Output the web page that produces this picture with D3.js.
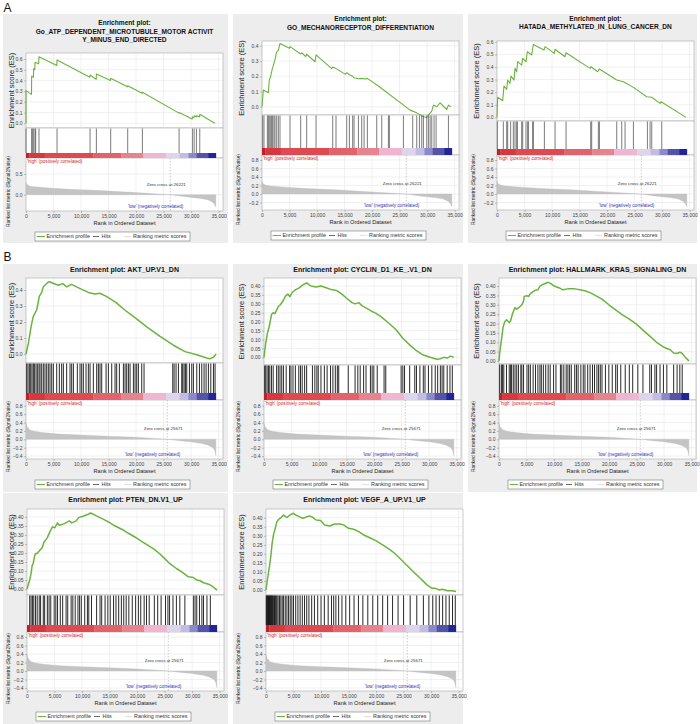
<!DOCTYPE html>
<html><head><meta charset="utf-8">
<script src="https://cdn.jsdelivr.net/npm/d3@7/dist/d3.min.js"></script>
<style>body{margin:0;background:#fff}svg{display:block}text{font-family:"Liberation Sans",Arial,sans-serif}</style>
</head><body><svg id="c" width="700" height="724"></svg>
<script>
// ---------------- DATA ----------------
const xTicks = [0,5000,10000,15000,20000,25000,30000,35000];
const zeroCrossA = 26221, zeroCrossB = 25671;
const legendLabels = ["Enrichment profile","Hits","Ranking metric scores"];
const barStops = [0,600,3400,12200,17300,21300,25500,27900,29500,31000,33100,34500];
const barColors = ["#c21f2b","#d7383f","#de4a50","#e2636c","#e6838c","#efb6d1","#dcd5ec","#c2bce3","#8b89cc","#5353aa","#23239a"];

const titlesA1 = ["Enrichment plot:","Go_ATP_DEPENDENT_MICROTUBULE_MOTOR ACTIVIT","Y_MINUS_END_DIRECTED"];
const titlesA2 = ["Enrichment plot:","GO_MECHANORECEPTOR_DIFFERENTIATION"];
const titlesA3 = ["Enrichment plot:","HATADA_METHYLATED_IN_LUNG_CANCER_DN"];
const titlesB1 = ["Enrichment plot: AKT_UP.V1_DN"];
const titlesB2 = ["Enrichment plot: CYCLIN_D1_KE_.V1_DN"];
const titlesB3 = ["Enrichment plot: HALLMARK_KRAS_SIGNALING_DN"];
const titlesB4 = ["Enrichment plot: PTEN_DN.V1_UP"];
const titlesB5 = ["Enrichment plot: VEGF_A_UP.V1_UP"];

const esTicksA1 = [0,0.1,0.2,0.3,0.4,0.5,0.6];
const esTicksA2 = [0,0.1,0.2,0.3,0.4];
const esTicksA3 = [0,0.1,0.2,0.3,0.4,0.5,0.6];
const esTicksB1 = [0,0.1,0.2,0.3,0.4];
const esTicksB = [0,0.05,0.1,0.15,0.2,0.25,0.3,0.35,0.4];
const rankTicksA1 = [0,0.5];
const rankTicksA = [-0.2,0,0.2,0.4,0.6,0.8];
const rankTicksB = [-0.4,-0.2,0,0.2,0.4,0.6,0.8];

const rankedA = [[0,0.29],[150,0.25],[600,0.21],[1500,0.19],[4300,0.16],[8000,0.13],[13400,0.1],[20000,0.05],[26221,0],[29000,-0.05],[31700,-0.09],[33000,-0.12],[33800,-0.17],[34200,-0.22],[34450,-0.29],[34500,-0.3]];
const rankedB = [[0,0.38],[200,0.3],[730,0.22],[1500,0.19],[3000,0.16],[6000,0.125],[10000,0.1],[15000,0.075],[20000,0.05],[25671,0],[28000,-0.035],[30000,-0.06],[32000,-0.1],[33000,-0.135],[34000,-0.2],[34300,-0.27],[34500,-0.39]];

const esA1 = [[0,0],[0,0.305],[1000,0.27],[1030,0.44],[1350,0.43],[1390,0.51],[1600,0.5],[1640,0.57],[2300,0.555],[2360,0.62],[5600,0.54],[5640,0.59],[11600,0.43],[11640,0.45],[12750,0.41],[12790,0.46],[15350,0.4],[15390,0.42],[18450,0.34],[18480,0.35],[21100,0.28],[21150,0.29],[27800,0.095],[27820,0.1],[30200,0.04],[30240,0.06],[30500,0.05],[30550,0.07],[30950,0.06],[30970,0.07],[31550,0.06],[31580,0.085],[34300,0]];
const hitsA1 = [0,1030,1150,1390,1640,1760,2360,5640,11640,12790,15390,18480,21150,27820,30240,30550,30970,31580];

const esA2 = [[0,0],[240,0.11],[1150,0.092],[1330,0.175],[1580,0.2],[1760,0.23],[1880,0.25],[2060,0.27],[2360,0.31],[2670,0.36],[2970,0.37],[3270,0.415],[4970,0.383],[5090,0.394],[7030,0.346],[7210,0.354],[7940,0.328],[8120,0.344],[9640,0.295],[9820,0.34],[12670,0.25],[12850,0.26],[13450,0.25],[15090,0.214],[15390,0.223],[15990,0.208],[16480,0.2],[16730,0.19],[17510,0.184],[18120,0.186],[18730,0.182],[19150,0.186],[21150,0.136],[26910,-0.022],[28120,-0.04],[29330,-0.066],[29940,-0.07],[30240,-0.055],[30850,-0.028],[31150,0.011],[31760,0],[32360,0.026],[33570,-0.018],[33880,0.011],[34300,0]];
const hitsA2 = [120,360,970,1150,1330,1580,1760,1940,2180,2360,2670,2970,3270,5090,7030,8120,9820,12850,13450,15390,15880,16480,16730,17520,18120,18550,19150,20850,21760,22970,23150,25700,27390,28120,28610,29030,29330,29940,30240,30550,30850,31270,31640,33880];

const esA3 = [[0,0],[120,0.159],[1030,0.132],[1270,0.249],[1760,0.222],[1940,0.296],[2360,0.27],[2550,0.328],[3090,0.296],[3270,0.389],[3580,0.362],[3760,0.442],[4480,0.415],[4670,0.468],[5270,0.442],[5510,0.521],[6300,0.495],[6610,0.579],[8540,0.534],[8730,0.561],[10420,0.508],[10540,0.54],[12360,0.481],[12540,0.513],[16910,0.389],[17090,0.402],[18300,0.362],[18600,0.384],[21760,0.296],[22970,0.283],[24790,0.238],[27210,0.164],[28120,0.159],[29630,0.111],[29820,0.124],[34360,0]];
const hitsA3 = [60,1150,1760,1940,2480,2970,3270,3580,3700,4480,4670,5270,5580,5700,6480,6610,8610,10550,12550,17030,17210,18420,18610,21760,22670,23270,24790,27330,27820,28120,29940];

const esB1 = [[0,0],[420,0.065],[730,0.13],[1030,0.19],[1330,0.235],[1940,0.275],[2420,0.36],[2850,0.385],[3150,0.42],[4050,0.45],[4360,0.452],[4670,0.445],[5880,0.43],[6670,0.44],[7400,0.42],[8250,0.435],[9760,0.41],[11330,0.385],[12490,0.375],[13400,0.38],[14620,0.36],[16440,0.32],[17950,0.275],[19510,0.235],[21940,0.17],[24360,0.11],[26780,0.055],[28910,0.015],[31030,-0.005],[32850,-0.025],[33400,-0.03],[34060,-0.02],[34550,0]];
const hitsB1 = [120,360,610,850,1090,1330,1520,1820,2060,2360,2550,2850,3150,3450,3760,4060,4360,4670,4970,5580,6060,6480,6790,7390,8000,8300,8610,9330,9820,10120,10420,10910,11330,11640,12240,12850,13150,13450,13760,14550,14970,15580,16180,16480,16970,17700,18000,18300,18610,18910,19520,19820,20120,20420,21030,21450,26670,26910,27270,27700,28300,28480,28730,28970,29210,29700,30120,30420,31030,31520,31940,32360,32730,33150,33580,34060,34360];

const esB2 = [[0,0],[310,0.08],[620,0.135],[930,0.17],[1180,0.21],[1360,0.24],[1670,0.25],[1980,0.245],[2290,0.265],[2600,0.285],[2980,0.295],[3530,0.32],[3900,0.343],[4340,0.355],[4710,0.34],[5150,0.365],[5770,0.38],[6390,0.39],[7000,0.405],[7750,0.418],[8500,0.4],[9440,0.395],[10360,0.4],[11300,0.39],[12230,0.38],[13160,0.375],[14100,0.356],[15070,0.33],[16000,0.307],[16560,0.3],[17200,0.307],[17800,0.29],[18700,0.275],[19650,0.257],[20270,0.248],[21200,0.23],[22750,0.19],[24000,0.155],[25230,0.107],[26470,0.07],[27700,0.037],[28950,0.013],[30190,0],[31430,-0.011],[32050,-0.008],[32670,0],[33290,-0.004],[33900,0.007],[34530,0]];
const hitsB2 = [120,310,560,810,1050,1360,1670,2290,2600,2910,3220,3530,4030,4650,4900,5270,5700,6320,6630,6940,7380,7750,8800,9240,9610,9860,10350,10970,11470,12090,12520,12960,13330,13580,15310,16550,17050,17480,18100,18540,19340,19650,19960,20580,21820,22130,24920,25230,25540,26470,27400,27710,28330,28950,29260,29880,30500,31120,31560,32050,32360,32670,33290,33790,34220];

const esB3 = [[0,0],[120,0.04],[430,0.11],[740,0.18],[1050,0.21],[1360,0.22],[1860,0.205],[2110,0.215],[2480,0.255],[2910,0.285],[3220,0.277],[3720,0.288],[4150,0.3],[4460,0.318],[4590,0.345],[5080,0.348],[5390,0.345],[5700,0.36],[6200,0.37],[6630,0.378],[7070,0.38],[7440,0.4],[8060,0.41],[8930,0.42],[9430,0.413],[10040,0.4],[10970,0.39],[11590,0.38],[12520,0.385],[13760,0.385],[14690,0.38],[15620,0.375],[16550,0.365],[17480,0.35],[18720,0.33],[19960,0.3],[21200,0.273],[22440,0.246],[23680,0.223],[24920,0.198],[26160,0.165],[27400,0.133],[28640,0.1],[29880,0.075],[30500,0.067],[31120,0.06],[31740,0.043],[32360,0.04],[32860,0.047],[33290,0.04],[33910,0.018],[34530,0]];
const hitsB3 = [120,430,620,870,1360,1860,2110,2290,2600,2910,3220,3530,3970,4150,4460,5080,5390,5700,6200,6630,7070,7440,7690,8060,8490,8930,9300,9920,10350,11160,11410,11780,12210,12520,12830,13140,13760,14070,14380,14880,15310,15620,16120,16550,16990,17360,17790,18100,18410,18720,19340,19960,20580,21200,21510,22130,22940,23680,24300,25230,26160,27400,27710,28330,28640,29260,29880,30500,31740,32360,32860,33290];

const esB4 = [[0,0],[490,0.05],[740,0.087],[930,0.13],[1110,0.14],[1360,0.18],[1540,0.197],[1850,0.197],[2340,0.215],[2780,0.23],[3080,0.26],[3700,0.285],[4190,0.32],[4630,0.345],[5060,0.34],[5550,0.367],[5860,0.354],[6790,0.363],[7710,0.378],[8140,0.367],[8950,0.378],[9380,0.396],[10180,0.404],[11110,0.415],[11600,0.422],[12340,0.41],[13270,0.396],[14190,0.382],[14810,0.372],[15730,0.354],[16660,0.34],[17580,0.326],[18510,0.308],[19740,0.286],[20980,0.262],[22210,0.238],[23140,0.22],[24060,0.197],[24990,0.17],[25910,0.142],[27150,0.114],[28380,0.09],[29310,0.068],[30230,0.064],[30850,0.05],[31460,0.046],[32080,0.035],[33010,0.027],[33630,0.016],[34550,-0.006]];
const hitsB4 = [490,740,990,1230,1540,1850,2220,2470,2960,3210,3700,4010,4320,4940,5240,5550,6050,6480,7100,7400,8020,8330,8760,9260,9560,9870,10490,10980,11230,11720,12650,13270,13570,14190,14690,15120,15730,16170,16660,17150,17580,18020,18510,19130,19740,20240,20670,21290,21720,22210,23140,23750,24370,25170,25610,25910,26530,27150,27770,28690,30230,30540,30850,31340,31780,32080,32700,33320];

const esB5 = [[0,0],[250,0.055],[620,0.13],[870,0.185],[1120,0.26],[1360,0.305],[1670,0.34],[1980,0.378],[2290,0.39],[2600,0.397],[2910,0.406],[3220,0.415],[3530,0.406],[3840,0.402],[4340,0.415],[4960,0.424],[5390,0.415],[6010,0.406],[6630,0.397],[7250,0.402],[7870,0.41],[8490,0.402],[9110,0.387],[9920,0.384],[10660,0.36],[11590,0.354],[12520,0.365],[13450,0.365],[14070,0.36],[15000,0.341],[15930,0.336],[16860,0.323],[17790,0.304],[19030,0.286],[19960,0.273],[21200,0.249],[22440,0.225],[23370,0.203],[24300,0.175],[25540,0.138],[26780,0.101],[28020,0.065],[29260,0.028],[30190,0.009],[30810,0.009],[31430,0],[32050,0.004],[32980,-0.004],[33910,-0.004],[34530,-0.009]];
const hitsB5 = [50,150,250,350,450,550,650,750,850,950,1050,1150,1250,1400,1550,1700,1850,2000,2200,2450,2700,2950,3200,3500,3800,4100,4400,4700,5000,5400,5800,6200,6600,7000,7400,7800,8300,8800,9400,10000,10600,11300,11900,12300,12700,13200,13800,14500,15200,16000,16800,17600,18500,19400,20300,21200,22100,23000,24000,25000,26200,27400,28600,29600,30300,30900,31500,32100,32700,33300,33900,34400];

// ---------------- LAYOUT ----------------
const panels = [
 {title:titlesA1, es:esA1, hits:hitsA1, ranked:rankedA, zero:zeroCrossA, esTicks:esTicksA1, esFmt:".1f", rankTicks:rankTicksA1,
  bg:[3,14,225,229], left:26, titleY:[25,33.5,42], titleSize:6.6, esTop:53, esBot:128, hitsBot:153, barH:5, rankBot:211, esDom:[-0.044,0.656], rankDom:[-0.394,0.886], lw:1.1, hw:0.7, hc:"#444"},
 {title:titlesA2, es:esA2, hits:hitsA2, ranked:rankedA, zero:zeroCrossA, esTicks:esTicksA2, esFmt:".1f", rankTicks:rankTicksA,
  bg:[233,14,230,229], left:262, titleY:[21,30], titleSize:6.6, esTop:41, esBot:115, hitsBot:148, barH:7, rankBot:210, esDom:[-0.054,0.431], rankDom:[-0.376,0.918], lw:1.1, hw:0.7, hc:"#444"},
 {title:titlesA3, es:esA3, hits:hitsA3, ranked:rankedA, zero:zeroCrossA, esTicks:esTicksA3, esFmt:".1f", rankTicks:rankTicksA,
  bg:[468,14,229,229], left:497, titleY:[21,29], titleSize:6.6, esTop:41, esBot:121, hitsBot:149, barH:6, rankBot:210, esDom:[-0.029,0.606], rankDom:[-0.376,0.918], lw:1.1, hw:0.7, hc:"#444"},
 {title:titlesB1, es:esB1, hits:hitsB1, ranked:rankedB, zero:zeroCrossB, esTicks:esTicksB1, esFmt:".1f", rankTicks:rankTicksB,
  bg:[3,264,225,228], left:26, titleY:[272], titleSize:7, esTop:278, esBot:363, hitsBot:393, barH:7, rankBot:459, esDom:[-0.056,0.475], rankDom:[-0.469,0.936], lw:1.5, hw:0.9, hc:"#111"},
 {title:titlesB2, es:esB2, hits:hitsB2, ranked:rankedB, zero:zeroCrossB, esTicks:esTicksB, esFmt:".2f", rankTicks:rankTicksB,
  bg:[233,264,230,228], left:264, titleY:[272], titleSize:7, esTop:278, esBot:365, hitsBot:393, barH:7, rankBot:459, esDom:[-0.043,0.445], rankDom:[-0.469,0.936], lw:1.5, hw:0.9, hc:"#111"},
 {title:titlesB3, es:esB3, hits:hitsB3, ranked:rankedB, zero:zeroCrossB, esTicks:esTicksB, esFmt:".2f", rankTicks:rankTicksB,
  bg:[468,264,229,228], left:499, titleY:[272], titleSize:7, esTop:278, esBot:364, hitsBot:393, barH:7, rankBot:459, esDom:[-0.016,0.443], rankDom:[-0.469,0.936], lw:1.5, hw:0.9, hc:"#111"},
 {title:titlesB4, es:esB4, hits:hitsB4, ranked:rankedB, zero:zeroCrossB, esTicks:esTicksB, esFmt:".2f", rankTicks:rankTicksB,
  bg:[3,493,225,231], left:27, titleY:[502], titleSize:7, esTop:509, esBot:595, hitsBot:625, barH:7, rankBot:691, esDom:[-0.033,0.444], rankDom:[-0.47,0.918], lw:1.5, hw:0.9, hc:"#111"},
 {title:titlesB5, es:esB5, hits:hitsB5, ranked:rankedB, zero:zeroCrossB, esTicks:esTicksB, esFmt:".2f", rankTicks:rankTicksB,
  bg:[233,493,230,231], left:266, titleY:[502], titleSize:7, esTop:509, esBot:595, hitsBot:625, barH:7, rankBot:691, esDom:[-0.028,0.448], rankDom:[-0.47,0.918], lw:1.5, hw:0.9, hc:"#111"}
];

const svg = d3.select("#c");
const W = 197, XMAX = 35800;
const GREEN = "#6ab43e";

function drawPanel(p) {
  const g = svg.append("g");
  const [bx,by,bw,bh] = p.bg;
  g.append("rect").attr("x",bx).attr("y",by).attr("width",bw).attr("height",bh).attr("fill","#ededed");
  const x = d3.scaleLinear().domain([0,XMAX]).range([p.left,p.left+W]);
  const yE = d3.scaleLinear().domain(p.esDom).range([p.esBot,p.esTop]);
  const barBot = p.hitsBot + p.barH;
  const yR = d3.scaleLinear().domain(p.rankDom).range([p.rankBot, barBot]);

  p.title.forEach((t,i)=> g.append("text").attr("x",p.left+W/2).attr("y",p.titleY[i])
    .attr("text-anchor","middle").attr("font-weight","bold").attr("font-size",p.titleSize).attr("fill","#111").text(t));

  // plot boxes
  const box = (y0,y1)=> g.append("rect").attr("x",p.left).attr("y",y0).attr("width",W).attr("height",y1-y0)
     .attr("fill","#fff").attr("stroke","#a8a8a8").attr("stroke-width",0.6);
  box(p.esTop,p.esBot); box(p.esBot,barBot); box(barBot,p.rankBot);

  // grids
  const grid = g.append("g").attr("stroke","#e2e2e2").attr("stroke-width",0.5);
  xTicks.slice(1).forEach(t=>{
    if (x(t) >= p.left+W) return;
    grid.append("line").attr("x1",x(t)).attr("x2",x(t)).attr("y1",p.esTop).attr("y2",p.esBot);
    grid.append("line").attr("x1",x(t)).attr("x2",x(t)).attr("y1",barBot).attr("y2",p.rankBot);
  });
  p.esTicks.forEach(t=> grid.append("line").attr("x1",p.left).attr("x2",p.left+W).attr("y1",yE(t)).attr("y2",yE(t)));
  p.rankTicks.forEach(t=> grid.append("line").attr("x1",p.left).attr("x2",p.left+W).attr("y1",yR(t)).attr("y2",yR(t)));

  // ES axis
  const ax = g.append("g").attr("transform",`translate(${p.left},0)`)
    .call(d3.axisLeft(yE).tickValues(p.esTicks).tickFormat(d3.format(p.esFmt)).tickSize(2).tickPadding(1.5));
  const ax2 = g.append("g").attr("transform",`translate(${p.left},0)`)
    .call(d3.axisLeft(yR).tickValues(p.rankTicks).tickFormat(d3.format(".1f")).tickSize(2).tickPadding(1.5));
  const ax3 = g.append("g").attr("transform",`translate(0,${p.rankBot})`)
    .call(d3.axisBottom(x).tickValues(xTicks).tickFormat(d3.format(",")).tickSize(2).tickPadding(1.5));
  [ax,ax2,ax3].forEach(a=>{
    a.select(".domain").remove();
    a.selectAll("line").attr("stroke","#888").attr("stroke-width",0.5);
    a.selectAll("text").attr("font-size",5).attr("fill","#444").attr("font-family","Liberation Sans, Arial, sans-serif");
  });

  // ES curve
  g.append("path").datum(p.es).attr("fill","none").attr("stroke",GREEN).attr("stroke-width",p.lw)
    .attr("stroke-linejoin","round").attr("d", d3.line().x(d=>x(d[0])).y(d=>yE(d[1])));

  // hits
  g.append("g").selectAll("line").data(p.hits).join("line")
    .attr("x1",d=>x(d)).attr("x2",d=>x(d)).attr("y1",p.esBot+0.5).attr("y2",p.hitsBot)
    .attr("stroke",p.hc).attr("stroke-width",p.hw);

  // colour bar
  g.append("g").selectAll("rect").data(barColors).join("rect")
    .attr("x",(d,i)=>x(barStops[i])).attr("width",(d,i)=>x(barStops[i+1])-x(barStops[i])+0.3)
    .attr("y",p.hitsBot).attr("height",p.barH).attr("fill",d=>d);

  // ranked list
  g.append("path").datum(p.ranked).attr("fill","#c4c4c4").attr("stroke","#b8b8b8").attr("stroke-width",0.3)
    .attr("d", d3.area().x(d=>x(d[0])).y0(yR(0)).y1(d=>yR(d[1])));
  g.append("line").attr("x1",x(p.zero)).attr("x2",x(p.zero)).attr("y1",barBot).attr("y2",p.rankBot)
    .attr("stroke","#999").attr("stroke-width",0.5).attr("stroke-dasharray","1.5,1.5");
  g.append("text").attr("x",p.left+1).attr("y",barBot+4.8).attr("font-size",4.6).attr("fill","#d42a2a")
    .text("'high' (positively correlated)");
  g.append("text").attr("x",x(p.zero)-4).attr("y",yR(0)-9).attr("text-anchor","middle").attr("font-size",4.4).attr("fill","#333")
    .text("Zero cross at " + p.zero);
  g.append("text").attr("x",x(p.zero)+13).attr("y",p.rankBot-3).attr("text-anchor","end").attr("font-size",4.6).attr("fill","#3535b5")
    .text("'low' (negatively correlated)");

  // axis titles
  g.append("text").attr("transform",`translate(${bx+11},${(p.esTop+p.esBot)/2}) rotate(-90)`)
    .attr("text-anchor","middle").attr("font-size",7.5).attr("fill","#222").text("Enrichment score (ES)");
  g.append("text").attr("transform",`translate(${bx+6.5},${(barBot+p.rankBot+14)/2}) rotate(-90)`)
    .attr("text-anchor","middle").attr("font-size",4.8).attr("fill","#222").text("Ranked list metric (Signal2Noise)");
  g.append("text").attr("x",p.left+W/2).attr("y",p.rankBot+14).attr("text-anchor","middle")
    .attr("font-size",5.6).attr("fill","#222").text("Rank in Ordered Dataset");

  // legend
  const lx = p.left+9, ly = p.rankBot+21;
  g.append("rect").attr("x",lx).attr("y",ly).attr("width",155).attr("height",9)
    .attr("fill","#fff").attr("stroke","#777").attr("stroke-width",0.6);
  const items = [{c:GREEN,w:1,x0:1.7,x1:10,tx:11.5},{c:"#444",w:0.8,x0:58,x1:64,tx:66.5},{c:"#d8d8d8",w:0.8,x0:89,x1:96,tx:98}];
  items.forEach((it,i)=>{
    g.append("line").attr("x1",lx+it.x0).attr("x2",lx+it.x1).attr("y1",ly+4.5).attr("y2",ly+4.5)
      .attr("stroke",it.c).attr("stroke-width",it.w);
    g.append("text").attr("x",lx+it.tx).attr("y",ly+6.4).attr("font-size",5.4).attr("fill","#333").text(legendLabels[i]);
  });
}
panels.forEach(drawPanel);

svg.append("text").attr("x",3.5).attr("y",12).attr("font-size",12).attr("fill","#111").text("A");
svg.append("text").attr("x",3.5).attr("y",261).attr("font-size",12).attr("fill","#111").text("B");
</script>
</body></html>
